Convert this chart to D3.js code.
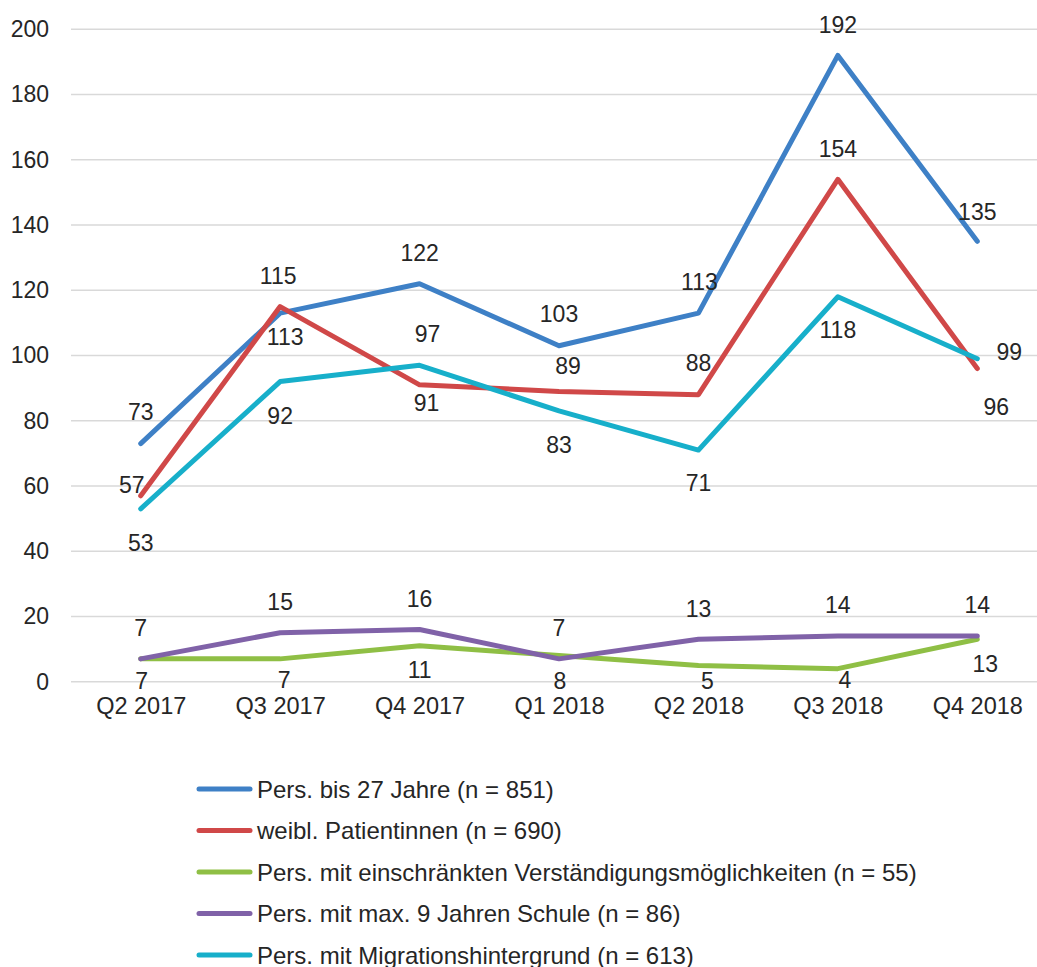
<!DOCTYPE html>
<html lang="de">
<head>
<meta charset="utf-8">
<title>Patientengruppen je Quartal</title>
<script src="https://d3js.org/d3.v7.min.js"></script>
<style>
  html, body { margin: 0; padding: 0; background: #fff; }
  svg text { font-family: "Liberation Sans", Arial, sans-serif; fill: #262626; }
</style>
</head>
<body>
<svg id="chart" width="1037" height="967"></svg>
<script>
// quarters on the x axis
const quarters = ["Q2 2017", "Q3 2017", "Q4 2017", "Q1 2018", "Q2 2018", "Q3 2018", "Q4 2018"];

// series values, in legend order
const youngValues     = [73, 113, 122, 103, 113, 192, 135];
const femaleValues    = [57, 115, 91, 89, 88, 154, 96];
const languageValues  = [7, 7, 11, 8, 5, 4, 13];
const schoolValues    = [7, 15, 16, 7, 13, 14, 14];
const migrationValues = [53, 92, 97, 83, 71, 118, 99];

const seriesNames = [
  "Pers. bis 27 Jahre (n = 851)",
  "weibl. Patientinnen (n = 690)",
  "Pers. mit einschränkten Verständigungsmöglichkeiten (n = 55)",
  "Pers. mit max. 9 Jahren Schule (n = 86)",
  "Pers. mit Migrationshintergrund (n = 613)"
];

const yTicks = [0, 20, 40, 60, 80, 100, 120, 140, 160, 180, 200];

// styling / layout (kept apart from the data)
const colors = ["#3e80c6", "#d04848", "#8fbf45", "#8062a8", "#17afca"];

// label nudges [dx, dy] relative to each point, like Excel placed them
const labelNudge = [
  [[0, -32], [5, 24], [0, -31], [0, -32], [1, -31], [0, -31], [0, -30]],
  [[-9, -11], [-2, -31], [7, 18], [9, -26], [0, -32], [0, -31], [19, 38]],
  [[1, 22], [4, 21], [0, 24], [1, 25], [9, 15], [7, 11], [8, 24]],
  [[0, -31], [0, -31], [0, -31], [0, -31], [0, -31], [0, -31], [0, -31]],
  [[0, 34], [0, 34], [8, -32], [0, 34], [0, 33], [0, 33], [32, -7]]
];

const series = [youngValues, femaleValues, languageValues, schoolValues, migrationValues]
  .map((vals, i) => ({ name: seriesNames[i], color: colors[i], values: vals, nudge: labelNudge[i] }));

const svg = d3.select("#chart");

const x = d3.scalePoint()
  .domain(quarters)
  .range([71, 1047])
  .padding(0.5);

const y = d3.scaleLinear()
  .domain([0, 200])
  .range([681.7, 29.3]);

// gridlines
svg.append("g")
  .selectAll("line")
  .data(yTicks)
  .join("line")
  .attr("x1", 71)
  .attr("x2", 1047)
  .attr("y1", d => y(d))
  .attr("y2", d => y(d))
  .attr("stroke", "#d9d9d9")
  .attr("stroke-width", 1.5);

// y axis labels
const yAxis = svg.append("g")
  .attr("transform", "translate(49,0)")
  .call(d3.axisLeft(y).tickValues(yTicks).tickSize(0).tickPadding(0));
yAxis.select(".domain").remove();
yAxis.selectAll("text")
  .attr("font-size", 23)
  .attr("font-family", "Liberation Sans, Arial, sans-serif")
  .attr("fill", "#262626");

// x axis labels
const xAxis = svg.append("g")
  .attr("transform", "translate(0,697)")
  .call(d3.axisBottom(x).tickSize(0).tickPadding(0));
xAxis.select(".domain").remove();
xAxis.selectAll("text")
  .attr("font-size", 23.5)
  .attr("font-family", "Liberation Sans, Arial, sans-serif")
  .attr("fill", "#262626");

const line = d3.line()
  .x((d, i) => x(quarters[i]))
  .y(d => y(d));

svg.append("g")
  .selectAll("path")
  .data(series)
  .join("path")
  .attr("d", d => line(d.values))
  .attr("fill", "none")
  .attr("stroke", d => d.color)
  .attr("stroke-width", 5)
  .attr("stroke-linecap", "round")
  .attr("stroke-linejoin", "round");

// data labels
const labels = svg.append("g").attr("font-size", 23).attr("text-anchor", "middle");
series.forEach(s => {
  labels.selectAll(null)
    .data(s.values)
    .join("text")
    .attr("x", (d, i) => x(quarters[i]) + s.nudge[i][0])
    .attr("y", (d, i) => y(d) + s.nudge[i][1])
    .attr("dy", "0.36em")
    .text(d => d);
});

// legend
const legend = svg.append("g")
  .selectAll("g")
  .data(series)
  .join("g")
  .attr("transform", (d, i) => `translate(0,${789 + i * 41.5})`);

legend.append("line")
  .attr("x1", 199)
  .attr("x2", 250)
  .attr("stroke", d => d.color)
  .attr("stroke-width", 5)
  .attr("stroke-linecap", "round");

legend.append("text")
  .attr("x", 257)
  .attr("dy", "0.36em")
  .attr("font-size", 24)
  .text(d => d.name);
</script>
</body>
</html>
